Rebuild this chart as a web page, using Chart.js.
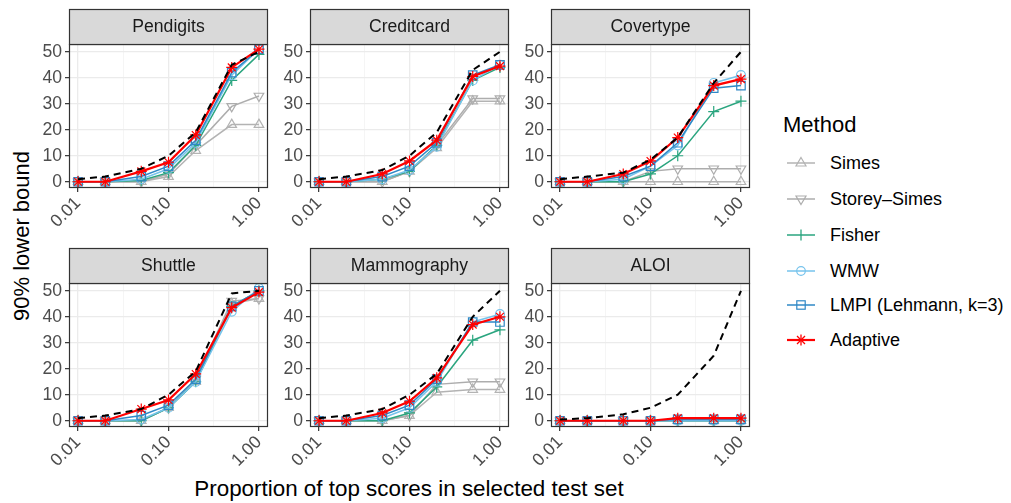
<!DOCTYPE html>
<html>
<head>
<meta charset="utf-8">
<script src="https://cdn.jsdelivr.net/npm/chart.js@4.4.1/dist/chart.umd.min.js"></script>
<style>
body { margin: 0; width: 1011px; height: 503px; background: #fff; position: relative; overflow: hidden; font-family: 'Liberation Sans', Arial, sans-serif; }
canvas.panel { position: absolute; }
#ytitle { position: absolute; left: 22px; top: 236px; transform: translate(-50%, -50%) rotate(-90deg); font-size: 22px; color: #000; white-space: nowrap; }
#xtitle { position: absolute; left: 409px; top: 489px; transform: translate(-50%, -50%); font-size: 22.4px; color: #000; white-space: nowrap; }
#legendTitle { position: absolute; left: 783px; top: 125px; transform: translateY(-50%); font-size: 22px; color: #000; }
.lrow { position: absolute; left: 787px; height: 20px; transform: translateY(-50%); display: flex; align-items: center; }
.lrow svg { width: 28px; height: 16px; }
.lrow span { margin-left: 15px; font-size: 18px; color: #000; white-space: nowrap; }
</style>
</head>
<body>
<div id="ytitle">90% lower bound</div>
<div id="xtitle">Proportion of top scores in selected test set</div>
<div id="legendTitle">Method</div>
<div id="legend"></div>
<script>
// proportion of top scores (x) and facets
const proportions = [0.01, 0.02, 0.05, 0.1, 0.2, 0.5, 1];
const panelNames = ['Pendigits', 'Creditcard', 'Covertype', 'Shuttle', 'Mammography', 'ALOI'];

const xTickValues = [0.01, 0.1, 1];
const xTickLabels = ['0.01', '0.10', '1.00'];
const yTickValues = [0, 10, 20, 30, 40, 50];

// one row per panel, in panelNames order
const simes = [
    [0, 0, 0, 2, 12, 22, 22],
    [0, 0, 0, 4, 13, 31, 31],
    [0, 0, 0, 0, 0, 0, 0],
    [0, 0, 0, 5, 15, 45, 47],
    [0, 0, 0, 2, 11, 12, 12],
    [0, 0, 0, 0, 0, 0, 0]
];
const storeySimes = [
    [0, 0, 0, 3, 14, 29, 33],
    [0, 0, 0, 4, 14, 32, 32],
    [0, 0, 0, 4, 5, 5, 5],
    [0, 0, 0, 5, 16, 46, 47],
    [0, 0, 0, 2, 14, 15, 15],
    [0, 0, 0, 0, 0, 0, 0]
];
const fisher = [
    [0, 0, 0.5, 3.5, 14, 39, 49],
    [0, 0, 1, 4, 14, 39, 44],
    [0, 0, 0, 3, 10, 27, 31],
    [0, 0, 0, 5, 15, 44, 50],
    [0, 0, 0, 3, 13, 31, 35],
    [0, 0, 0, 0, 0, 0, 0]
];
const wmw = [
    [0, 0, 1, 5, 15, 41, 51],
    [0, 0, 1, 4.5, 13.5, 39, 45],
    [0, 0, 1, 6, 14, 38, 41],
    [0, 0, 0.5, 5, 15, 42, 51],
    [0, 0, 1, 5, 15, 38, 41],
    [0, 0, 0, 0, 0, 0, 0]
];
const lmpi = [
    [0, 0, 2, 6, 16, 42, 51],
    [0, 0, 2, 6, 15, 41, 45],
    [0, 0, 2, 6, 15, 36, 37],
    [0, 0, 2, 6, 16, 44, 50],
    [0, 0, 2, 6, 16, 38, 38],
    [0, 0, 0, 0, 0.5, 0.5, 0.5]
];
const adaptive = [
    [0, 0, 4, 7.5, 18, 44, 51],
    [0, 0, 3, 8, 16, 40.5, 44.5],
    [0, 0, 3, 8, 17, 37, 39.5],
    [0, 0, 4.5, 8, 18, 43.5, 49.5],
    [0, 0, 3, 7.5, 16.5, 37, 40],
    [0, 0, 0, 0, 1, 1, 1]
];
// dashed black reference line
const oracle = [
    [1, 2, 5, 10, 19, 45, 50],
    [1, 2, 4.5, 10, 19, 43, 50],
    [1, 2, 3.5, 8.5, 17, 38, 50],
    [1, 2, 4.5, 10, 19, 49, 50],
    [1, 2, 4.5, 10, 18, 40, 50],
    [0.5, 1, 2.5, 5, 10, 25, 50]
];

const methods = [
    { label: 'Simes', values: simes, color: '#B3B3B3', style: 'triangle', rot: 0, r: 5.5, width: 1.5, order: 6 },
    { label: 'Storey\u2013Simes', values: storeySimes, color: '#ADADAD', style: 'triangle', rot: 180, r: 5.5, width: 1.5, order: 5 },
    { label: 'Fisher', values: fisher, color: '#2AA57F', style: 'cross', rot: 0, r: 5.5, width: 1.5, order: 4 },
    { label: 'WMW', values: wmw, color: '#76C3EC', style: 'circle', rot: 0, r: 4.5, width: 1.5, order: 3 },
    { label: 'LMPI (Lehmann, k=3)', values: lmpi, color: '#2F88C6', style: 'rect', rot: 0, r: 6, width: 1.5, order: 2 },
    { label: 'Adaptive', values: adaptive, color: '#FF0000', style: 'star', rot: 0, r: 5.5, width: 2.2, order: 1 }
];

const xGrid = [0.01, Math.pow(10, -1.5), 0.1, Math.pow(10, -0.5), 1];
const yGrid = [0, 5, 10, 15, 20, 25, 30, 35, 40, 45, 50];

const cols = [69, 310, 551];
const rows = [44, 283];
const plotW = 199, plotH = 144;
const padL = 48, padT = 38, padR = 8, padB = 50;

Chart.defaults.font.family = "'Liberation Sans', Arial, sans-serif";

const panelFrame = {
    id: 'panelFrame',
    afterDatasetsDraw(chart, args, opts) {
        const { ctx, chartArea: a } = chart;
        ctx.save();
        ctx.strokeStyle = '#333333';
        ctx.lineWidth = 1.2;
        ctx.strokeRect(a.left + 0.5, a.top + 0.5, a.right - a.left - 1, a.bottom - a.top - 1);
        ctx.fillStyle = '#D9D9D9';
        ctx.fillRect(a.left, a.top - 35, a.right - a.left, 35);
        ctx.strokeRect(a.left + 0.5, a.top - 34.5, a.right - a.left - 1, 35);
        ctx.fillStyle = '#1A1A1A';
        ctx.font = "17.6px 'Liberation Sans', Arial, sans-serif";
        ctx.textAlign = 'center';
        ctx.textBaseline = 'middle';
        ctx.fillText(opts.text, (a.left + a.right) / 2, a.top - 17);
        ctx.restore();
    }
};

function isMajorX(v) { return xTickValues.some(t => Math.abs(t - v) < 1e-9); }

panelNames.forEach((name, i) => {
    const canvas = document.createElement('canvas');
    canvas.className = 'panel';
    canvas.width = padL + plotW + padR;
    canvas.height = padT + plotH + padB;
    canvas.style.left = (cols[i % 3] - padL) + 'px';
    canvas.style.top = (rows[Math.floor(i / 3)] - padT) + 'px';
    document.body.appendChild(canvas);

    const datasets = methods.map(m => ({
        label: m.label,
        data: proportions.map((p, k) => ({ x: p, y: m.values[i][k] })),
        borderColor: m.color,
        backgroundColor: 'rgba(0,0,0,0)',
        borderWidth: m.width,
        pointStyle: m.style,
        pointRotation: m.rot,
        pointRadius: m.r,
        pointBorderWidth: 1.2,
        pointBorderColor: m.color,
        pointBackgroundColor: 'rgba(0,0,0,0)',
        order: m.order
    }));
    datasets.push({
        label: 'oracle',
        data: proportions.map((p, k) => ({ x: p, y: oracle[i][k] })),
        borderColor: '#000000',
        borderWidth: 2,
        borderDash: [7, 5],
        pointRadius: 0,
        order: 0
    });

    new Chart(canvas, {
        type: 'line',
        data: { datasets },
        plugins: [panelFrame],
        options: {
            responsive: false,
            animation: false,
            layout: { padding: { left: 0, top: padT, right: padR, bottom: 0 } },
            plugins: {
                legend: { display: false },
                tooltip: { enabled: false },
                panelFrame: { text: name }
            },
            scales: {
                x: {
                    type: 'logarithmic',
                    min: Math.pow(10, -2.1),
                    max: Math.pow(10, 0.1),
                    afterBuildTicks: s => { s.ticks = xGrid.map(v => ({ value: v })); },
                    afterFit: s => { s.height = padB; },
                    border: { display: false },
                    grid: {
                        color: c => (c.tick && isMajorX(c.tick.value)) ? '#EBEBEB' : '#F2F2F2',
                        lineWidth: c => (c.tick && isMajorX(c.tick.value)) ? 1.3 : 0.8,
                        tickLength: 4,
                        tickWidth: 1.2,
                        tickColor: c => (c.tick && isMajorX(c.tick.value)) ? '#333333' : 'rgba(0,0,0,0)'
                    },
                    ticks: {
                        autoSkip: false,
                        minRotation: 45,
                        maxRotation: 45,
                        padding: 1,
                        color: '#4D4D4D',
                        font: { size: 17.6 },
                        callback: v => {
                            const idx = xTickValues.findIndex(t => Math.abs(t - v) < 1e-9);
                            return idx >= 0 ? xTickLabels[idx] : '';
                        }
                    }
                },
                y: {
                    min: -2.4,
                    max: 53,
                    afterBuildTicks: s => { s.ticks = yGrid.map(v => ({ value: v })); },
                    afterFit: s => { s.width = padL; },
                    border: { display: false },
                    grid: {
                        color: c => (c.tick && c.tick.value % 10 === 0) ? '#EBEBEB' : '#F2F2F2',
                        lineWidth: c => (c.tick && c.tick.value % 10 === 0) ? 1.3 : 0.8,
                        tickLength: 4,
                        tickWidth: 1.2,
                        tickColor: c => (c.tick && c.tick.value % 10 === 0) ? '#333333' : 'rgba(0,0,0,0)'
                    },
                    ticks: {
                        padding: 3,
                        color: '#4D4D4D',
                        font: { size: 17.6 },
                        callback: v => yTickValues.includes(v) ? String(v) : ''
                    }
                }
            }
        }
    });
});

// legend keys
const legendY = [163, 199, 235, 271, 305, 340];
const shapes = {
    triangle0: c => `<polygon points="14,2.5 19,11 9,11" fill="none" stroke="${c}" stroke-width="1.2"/>`,
    triangle180: c => `<polygon points="14,13.5 19,5 9,5" fill="none" stroke="${c}" stroke-width="1.2"/>`,
    cross0: c => `<line x1="14" y1="2.5" x2="14" y2="13.5" stroke="${c}" stroke-width="1.3"/>`,
    circle0: c => `<circle cx="14" cy="8" r="4.3" fill="none" stroke="${c}" stroke-width="1.2"/>`,
    rect0: c => `<rect x="9.8" y="3.8" width="8.4" height="8.4" fill="none" stroke="${c}" stroke-width="1.2"/>`,
    star0: c => `<g stroke="${c}" stroke-width="1.3"><line x1="14" y1="2.5" x2="14" y2="13.5"/><line x1="8.5" y1="8" x2="19.5" y2="8"/><line x1="10" y1="4" x2="18" y2="12"/><line x1="18" y1="4" x2="10" y2="12"/></g>`
};
const legend = document.getElementById('legend');
methods.forEach((m, k) => {
    const row = document.createElement('div');
    row.className = 'lrow';
    row.style.top = legendY[k] + 'px';
    row.innerHTML = `<svg viewBox="0 0 28 16"><line x1="0" y1="8" x2="28" y2="8" stroke="${m.color}" stroke-width="${m.width}"/>${shapes[m.style + m.rot](m.color)}</svg><span>${m.label}</span>`;
    legend.appendChild(row);
});
</script>
</body>
</html>
